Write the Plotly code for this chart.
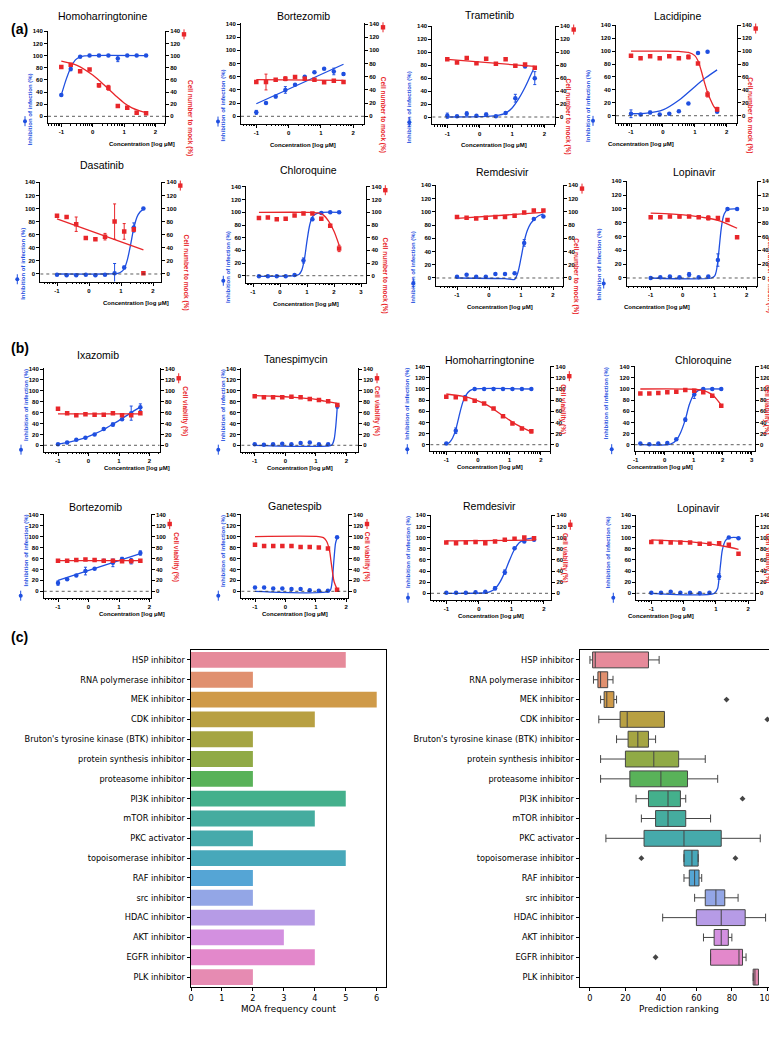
import math
import plotly.graph_objects as go

W, H = 777, 1041
BLUE = '#1f4fe0'
RED = '#e8262a'
FONT = 'Liberation Sans'
CFONT = 'DejaVu Sans'

# ---------------- concentrations (log uM) ----------------
conc = [-1.0, -0.7, -0.4, -0.1, 0.2, 0.5, 0.8, 1.1, 1.4, 1.7]
conc_cq_a = [-0.78, -0.45, -0.12, 0.21, 0.54, 0.87, 1.2, 1.53, 1.86, 2.19]
conc_cq_b = [-0.84, -0.53, -0.22, 0.09, 0.4, 0.71, 1.02, 1.33, 1.64, 1.95]
ticks_std = [-1, 0, 1, 2]
ticks_cq = [-1, 0, 1, 2, 3]

titles_a = ["Homoharringtonine", "Bortezomib", "Trametinib", "Lacidipine",
            "Dasatinib", "Chloroquine", "Remdesivir", "Lopinavir"]
titles_b = ["Ixazomib", "Tanespimycin", "Homoharringtonine", "Chloroquine",
            "Bortezomib", "Ganetespib", "Remdesivir", "Lopinavir"]

# ---------------- panel (a) ----------------
a1_inf = [35, 78, 98, 100, 100, 100, 95, 100, 100, 100]
a1_inf_err = [0, 3, 0, 0, 0, 0, 5, 0, 0, 0]
a1_cell = [81, 85, 74, 77, 51, 47, 17, 14, 6, 5]
a1_cell_err = [0, 0, 2, 0, 3, 4, 0, 0, 0, 0]
a1_inf_fit_x = [-1, -0.85, -0.7, -0.55, -0.4, -0.25, -0.1, 1.7]
a1_inf_fit = [35, 60, 80, 93, 98, 99.5, 100, 100]
a1_cell_fit_x = [-1, -0.5, 0, 0.25, 0.5, 0.75, 1, 1.25, 1.5, 1.7]
a1_cell_fit = [91, 84, 68, 57, 45, 33, 22, 14, 9, 6]

a2_inf = [6, 20, 30, 40, 48, 60, 67, 72, 68, 64]
a2_inf_err = [3, 0, 2, 5, 0, 0, 0, 0, 5, 2]
a2_cell = [52, 52, 55.5, 57, 59.5, 57, 55.5, 51.5, 54, 52]
a2_cell_err = [2, 12, 0, 3, 0, 2, 0, 0, 0, 0]
a2_inf_fit_x = [-1, 1.7]
a2_inf_fit = [19, 79]
a2_cell_fit_x = [-1, 1.7]
a2_cell_fit = [55.5, 54.5]

a3_inf = [2, 1, 5, 2, 4, 1, 6, 29, 78, 60]
a3_inf_err = [4, 0, 3, 0, 2, 0, 0, 6, 0, 10]
a3_cell = [89, 84, 91, 83, 90, 82, 89, 79, 81, 76]
a3_cell_err = [0, 0, 0, 0, 0, 0, 0, 0, 0, 0]
a3_inf_fit_x = [-1, 0, 0.5, 0.8, 1.0, 1.2, 1.4, 1.55, 1.7]
a3_inf_fit = [0, 0.5, 2, 6, 14, 28, 46, 62, 78]
a3_cell_fit_x = [-1, 1.7]
a3_cell_fit = [89, 78]

a4_inf = [3, 2, 5, 2, 3, 7, 19, 97, 99, 6]
a4_inf_err = [6, 0, 2, 0, 0, 0, 0, 0, 0, 0]
a4_cell = [93, 89, 92, 89, 92, 89, 91, 81, 33, 10]
a4_cell_err = [0, 0, 0, 0, 0, 0, 3, 0, 4, 3]
a4_inf_fit_x = [-1, -0.5, 0, 0.5, 1.0, 1.35, 1.7]
a4_inf_fit = [3, 4, 9, 24, 45, 59, 71]
a4_cell_fit_x = [-1, 0, 0.5, 0.8, 1.0, 1.1, 1.2, 1.3, 1.4, 1.5, 1.6, 1.7]
a4_cell_fit = [100, 100, 99.5, 98, 93, 85, 70, 52, 36, 24, 14, 8]

a5_inf = [-1, -2, -2, -1, -2, -1, 1, 10, 71, 100]
a5_inf_err = [0, 0, 0, 0, 0, 0, 15, 2, 7, 0]
a5_cell = [89, 87, 76, 55, 53, 57, 80, 65, 68, 1]
a5_cell_err = [0, 0, 11, 0, 0, 5, 27, 12, 3, 0]
a5_inf_fit_x = [-1, 0.5, 0.9, 1.0, 1.1, 1.2, 1.3, 1.4, 1.5, 1.6, 1.7]
a5_inf_fit = [0, 0, 1, 3, 8, 22, 45, 70, 87, 95, 99]
a5_cell_fit_x = [-1, 1.7]
a5_cell_fit = [84, 37]

a6_inf = [-1, -1, -1, -1, 1, 24, 89, 99, 100, 100]
a6_inf_err = [0, 0, 0, 0, 0, 4, 2, 0, 0, 0]
a6_cell = [91, 92, 89, 90, 95, 98, 98, 90, 79, 43]
a6_cell_err = [0, 0, 0, 0, 0, 0, 0, 2, 2, 5]
a6_inf_fit_x = [-0.78, 0.5, 0.7, 0.8, 0.9, 1.0, 1.1, 1.2, 1.35, 1.6, 2.19]
a6_inf_fit = [-1, 0, 2, 8, 25, 55, 80, 93, 98, 100, 100]
a6_cell_fit_x = [-0.78, 1.0, 1.4, 1.6, 1.8, 2.0, 2.19]
a6_cell_fit = [100, 100, 99, 96, 86, 70, 48]

a7_inf = [2, 5, 2, 2, 6, 6, 7, 53, 89, 93]
a7_inf_err = [0, 0, 0, 0, 0, 0, 0, 5, 0, 0]
a7_cell = [92, 91, 90, 91, 92, 92, 94, 99, 102, 102]
a7_cell_err = [0, 0, 0, 0, 0, 0, 0, 0, 0, 0]
a7_inf_fit_x = [-1, 0.5, 0.8, 0.9, 1.0, 1.1, 1.2, 1.3, 1.4, 1.55, 1.7]
a7_inf_fit = [0, -1, -2, 8, 30, 55, 72, 82, 88, 94, 97]
a7_cell_fit_x = [-1, 1.7]
a7_cell_fit = [90, 99]

a8_inf = [0, 1, 2, 1, 5, 1, 2, 26, 100, 100]
a8_inf_err = [0, 0, 0, 0, 3, 0, 0, 9, 0, 0]
a8_cell = [88, 88, 89, 89, 89, 88, 87, 87, 84, 59]
a8_cell_err = [0, 0, 0, 2, 0, 0, 3, 0, 0, 0]
a8_inf_fit_x = [-1, 0.9, 1.0, 1.05, 1.1, 1.15, 1.2, 1.25, 1.3, 1.4, 1.7]
a8_inf_fit = [0, 0, 3, 10, 25, 48, 70, 85, 93, 99, 100]
a8_cell_fit_x = [-1, -0.3, 0.3, 0.8, 1.2, 1.7]
a8_cell_fit = [94, 92.5, 90, 86.5, 82, 72]

# ---------------- panel (b) ----------------
b1_inf = [2, 5, 10, 14, 20, 30, 38, 48, 59, 70]
b1_inf_err = [0, 2, 0, 0, 0, 0, 3, 0, 13, 6]
b1_cell = [67, 59, 55, 57, 56, 56, 59, 55, 55, 59]
b1_cell_err = [0, 0, 0, 0, 0, 0, 0, 0, 0, 0]
b1_inf_fit_x = [-1, -0.7, -0.4, -0.1, 0.2, 0.5, 0.8, 1.1, 1.4, 1.7]
b1_inf_fit = [2.5, 5, 9, 14, 21, 29, 39, 49, 60, 70]
b1_cell_fit_x = [-1, 1.7]
b1_cell_fit = [57.5, 57.5]

b2_inf = [2, 1, 2, 3, 2, 4, 5, 2, 2, 72]
b2_inf_err = [0, 0, 0, 0, 0, 0, 0, 0, 0, 4]
b2_cell = [90, 88, 88, 88, 89, 88, 85, 83, 81, 74]
b2_cell_err = [0, 0, 0, 0, 0, 0, 0, 0, 0, 0]
b2_inf_fit_x = [-1, 1.5, 1.55, 1.6, 1.65, 1.7]
b2_inf_fit = [0, 0, 3, 12, 35, 72]
b2_cell_fit_x = [-1, -0.3, 0.3, 0.9, 1.3, 1.7]
b2_cell_fit = [91, 90, 88, 85, 81, 77]

b3_inf = [2, 25, 85, 100, 100, 100, 100, 100, 100, 100]
b3_inf_err = [0, 5, 3, 0, 0, 0, 0, 0, 0, 0]
b3_cell = [86, 85, 82, 79, 74, 65, 51, 38, 29, 24]
b3_cell_err = [0, 0, 0, 0, 0, 0, 0, 0, 0, 3]
b3_inf_fit_x = [-1, -0.9, -0.8, -0.7, -0.6, -0.5, -0.4, -0.25, -0.1, 1.7]
b3_inf_fit = [1, 4, 12, 27, 50, 72, 87, 97, 100, 100]
b3_cell_fit_x = [-1, -0.5, -0.1, 0.3, 0.8, 1.2, 1.7]
b3_cell_fit = [91, 87, 81, 71, 52, 37, 23]

b4_inf = [2, 1, 2, 3, 10, 45, 90, 100, 100, 100]
b4_inf_err = [0, 0, 0, 0, 0, 3, 7, 0, 0, 0]
b4_cell = [92, 92, 93, 94, 95, 98, 97, 94, 88, 70]
b4_cell_err = [0, 0, 0, 0, 0, 0, 0, 0, 0, 0]
b4_inf_fit_x = [-0.84, 0.2, 0.4, 0.55, 0.71, 0.85, 1.0, 1.15, 1.3, 1.95]
b4_inf_fit = [0, 1, 8, 22, 45, 72, 90, 97, 99.5, 100]
b4_cell_fit_x = [-0.84, 1.0, 1.3, 1.5, 1.7, 1.95]
b4_cell_fit = [100, 99.5, 97.5, 94, 87, 71]

b5_inf = [15, 22, 29, 37, 41, 56, 52, 59, 55, 70]
b5_inf_err = [4, 0, 0, 7, 0, 0, 7, 3, 5, 4]
b5_cell = [56, 56, 57, 58, 57, 56, 56, 55, 55, 56]
b5_cell_err = [0, 0, 0, 0, 0, 0, 0, 0, 0, 0]
b5_inf_fit_x = [-1, 1.7]
b5_inf_fit = [20, 69]
b5_cell_fit_x = [-1, 1.7]
b5_cell_fit = [56, 56]

b6_inf = [7, 7, 5, 5, 4, 4, 2, 1, 1, 99]
b6_inf_err = [0, 0, 0, 0, 0, 0, 0, 0, 0, 0]
b6_cell = [85, 83, 83, 83, 83, 81, 81, 80, 78, 3]
b6_cell_err = [0, 0, 0, 0, 0, 0, 0, 0, 0, 0]
b6_inf_fit_x = [-1, 1.45, 1.5, 1.55, 1.6, 1.65, 1.7]
b6_inf_fit = [0, 0, 5, 25, 60, 88, 98]
b6_cell_fit_x = [-1, 1.1, 1.25, 1.35, 1.45, 1.5, 1.55, 1.6, 1.7]
b6_cell_fit = [100, 100, 98, 92, 75, 55, 35, 18, 4]

b7_inf = [1, 1, 1, 2, 3, 9, 38, 81, 93, 96]
b7_inf_err = [0, 0, 0, 0, 0, 3, 4, 0, 0, 0]
b7_cell = [91, 90, 91, 92, 90, 93, 96, 98, 100, 99]
b7_cell_err = [0, 0, 0, 0, 0, 0, 0, 0, 0, 0]
b7_inf_fit_x = [-1, 0.2, 0.35, 0.5, 0.65, 0.8, 0.95, 1.1, 1.25, 1.4, 1.7]
b7_inf_fit = [0, 1, 3, 8, 20, 38, 60, 79, 91, 96, 100]
b7_cell_fit_x = [-1, 1.7]
b7_cell_fit = [94, 95.5]

b8_inf = [1, 1, 3, 1, 1, 0, 1, 30, 100, 99]
b8_inf_err = [0, 0, 0, 0, 0, 0, 0, 5, 0, 0]
b8_cell = [92, 92, 91, 91, 91, 89, 89, 90, 87, 71]
b8_cell_err = [0, 0, 0, 0, 0, 0, 0, 0, 0, 0]
b8_inf_fit_x = [-1, 0.95, 1.05, 1.1, 1.15, 1.2, 1.3, 1.4, 1.7]
b8_inf_fit = [0, 0, 8, 28, 55, 78, 95, 99.5, 100]
b8_cell_fit_x = [-1, -0.3, 0.3, 0.9, 1.3, 1.7]
b8_cell_fit = [96, 94, 92, 88, 84, 79]

# ---------------- panel (c) ----------------
moa_cats = ["HSP inhibitor", "RNA polymerase inhibitor", "MEK inhibitor", "CDK inhibitor",
            "Bruton's tyrosine kinase (BTK) inhibitor", "protein synthesis inhibitor",
            "proteasome inhibitor", "PI3K inhibitor", "mTOR inhibitor", "PKC activator",
            "topoisomerase inhibitor", "RAF inhibitor", "src inhibitor", "HDAC inhibitor",
            "AKT inhibitor", "EGFR inhibitor", "PLK inhibitor"]
moa_counts = [5, 2, 6, 4, 2, 2, 2, 5, 4, 2, 5, 2, 2, 4, 3, 4, 2]
rank_lo = [0, 2, 6, 5, 15, 6, 6, 26, 29, 9, 53, 53, 59, 41, 64, 68, 92]
rank_q1 = [1.5, 4.5, 8, 17, 21.5, 20, 22.5, 33, 37, 30.5, 53, 56, 65, 60, 70, 68, 92]
rank_med = [3, 6, 9.5, 21, 27, 36, 40, 44, 44, 53, 57.5, 59, 71, 74, 74, 84, 93]
rank_q3 = [33, 10, 13.5, 42, 33, 50, 55, 51, 54, 74, 61, 61.5, 76, 87.5, 78, 86, 95]
rank_hi = [39, 13, 15, 42, 37, 65, 72, 54, 68, 96, 61, 63, 83.5, 99, 80, 88, 95]
outlier_val = [77, 100, 86, 29, 82, 37]
outlier_cat = ["MEK inhibitor", "CDK inhibitor", "PI3K inhibitor", "topoisomerase inhibitor",
               "topoisomerase inhibitor", "EGFR inhibitor"]

# ---------------- styles / geometry ----------------
moa_colors = ['#e68a9a', '#e0906f', '#cf9a48', '#b8a042', '#a5a543', '#90aa46', '#59b259',
              '#44b08c', '#45ac9f', '#46aaab', '#47a8ba', '#55a5d5', '#93a6e6', '#b69be6',
              '#d390e0', '#e388cb', '#e68bb2']

# (xl, xr, y140, y0, x_at_minus1, px_per_unit, title_x, title_y) in pixels
geom = [
    (40, 157, 23.3, 108.3, 53.3, 31.4, 94, 8),
    (233, 356, 16, 108.3, 248.3, 32.3, 295, 8),
    (424.3, 546.7, 18.3, 109, 439.3, 32.4, 482, 7),
    (608, 728.7, 17.3, 107.7, 623, 31.9, 669, 8),
    (32.3, 153.3, 174.3, 266, 49, 32, 94, 157),
    (238.3, 358.3, 179, 267.7, 245, 27, 300, 162),
    (428.3, 555, 177.3, 270, 449, 32, 495, 164),
    (618.7, 748.7, 173.3, 270, 642.7, 32, 686, 164),
    (36, 151.7, 361, 437.3, 50, 30.5, 90, 347),
    (233.3, 350, 361, 437.3, 246.7, 30.6, 288, 351),
    (422.3, 542.3, 358.7, 436.7, 438.3, 31.5, 482, 352),
    (626.7, 746.7, 358.7, 436.7, 627.7, 29, 695, 352),
    (35.7, 142.7, 506.7, 583.3, 50, 30.5, 87, 499),
    (233.3, 340, 506.7, 583.3, 247, 30.4, 287, 498),
    (423, 543.3, 507.3, 585.3, 438.3, 32.5, 482, 498),
    (628.3, 746.7, 507.3, 585.3, 643.3, 32.3, 690, 500),
]

fig = go.Figure()
layout = {}
annotations = []
shapes = []


def px(xp):
    return xp / W


def py(yp):
    return 1 - yp / H


def add_panel(k, title, xs, inf, inf_err, cell, cell_err, fxi, fyi, fxc, fyc, right_label, tick_major):
    xl, xr, y140, y0, xm1, ppu, tx, ty = geom[k]
    s = (y0 - y140) / 140.0
    ymin, ymax = -11.5, 141
    ytop = y140 - (ymax - 140) * s
    ybot = y0 - ymin * s
    xmin = -1 + (xl - xm1) / ppu
    xmax = -1 + (xr - xm1) / ppu
    xn, yl, yr = k + 1, 2 * k + 1, 2 * k + 2
    xa = 'x' if xn == 1 else 'x%d' % xn
    yla = 'y' if yl == 1 else 'y%d' % yl
    yra = 'y%d' % yr
    tf = dict(family=FONT, size=6, color='black', weight='bold')
    minor_vals = [n + math.log10(m) for n in range(-2, 4) for m in range(2, 10)]
    minor_vals = [v for v in minor_vals if xmin < v < xmax]
    layout['xaxis' if xn == 1 else 'xaxis%d' % xn] = dict(
        domain=[px(xl), px(xr)], range=[xmin, xmax], anchor=yla, automargin=False,
        showline=True, linecolor='black', linewidth=1, ticks='outside', ticklen=3,
        tickcolor='black', tickwidth=1, tickvals=tick_major, ticktext=[str(t) for t in tick_major],
        tickfont=tf, showgrid=False, zeroline=False,
        minor=dict(tickmode='array', tickvals=minor_vals, ticks='outside', ticklen=1.5,
                   tickcolor='black', tickwidth=0.8, showgrid=False))
    yax = dict(range=[ymin, ymax], anchor=xa, showline=True, linecolor='black', linewidth=1,
               ticks='outside', ticklen=3, tickcolor='black', tickwidth=1, automargin=False,
               tickvals=list(range(0, 141, 20)), tickfont=tf, showgrid=False, zeroline=False)
    layout['yaxis' if yl == 1 else 'yaxis%d' % yl] = dict(yax, domain=[py(ybot), py(ytop)])
    layout['yaxis%d' % yr] = dict(yax, overlaying=yla, side='right')

    # zero line
    shapes.append(dict(type='line', xref=xa, yref=yla, x0=xmin, x1=xmax, y0=0, y1=0,
                       line=dict(color='#333', width=0.8, dash='dot')))
    # fitted curves
    fig.add_trace(go.Scatter(x=fxc, y=fyc, mode='lines', line=dict(color=RED, width=1.3, shape='spline', smoothing=0.8),
                             xaxis=xa, yaxis=yra, hoverinfo='skip'))
    fig.add_trace(go.Scatter(x=fxi, y=fyi, mode='lines', line=dict(color=BLUE, width=1.3, shape='spline', smoothing=0.8),
                             xaxis=xa, yaxis=yla, hoverinfo='skip'))
    # points
    fig.add_trace(go.Scatter(x=xs, y=cell, mode='markers',
                             marker=dict(symbol='square', size=4.5, color=RED),
                             error_y=dict(type='data', array=cell_err, visible=True, color=RED, thickness=1, width=1.5),
                             xaxis=xa, yaxis=yra))
    fig.add_trace(go.Scatter(x=xs, y=inf, mode='markers',
                             marker=dict(symbol='circle', size=4.5, color=BLUE),
                             error_y=dict(type='data', array=inf_err, visible=True, color=BLUE, thickness=1, width=1.5),
                             xaxis=xa, yaxis=yla))
    # title
    annotations.append(dict(text=title, x=px(tx), y=py(ty), xref='paper', yref='paper', showarrow=False,
                            font=dict(family=FONT, size=10.5, color='black'), xanchor='center', yanchor='middle'))
    # axis labels
    annotations.append(dict(text='Inhibition of infection (%)', x=px(xl - 23), y=py(y0 - 74 * s), xref='paper',
                            yref='paper', showarrow=False, textangle=-90,
                            font=dict(family=FONT, size=6, color=BLUE, weight='bold')))
    annotations.append(dict(text=right_label, x=px(xr + 19), y=py(y0 - 63 * s), xref='paper', yref='paper',
                            showarrow=False, textangle=90,
                            font=dict(family=FONT, size=6.5, color=RED, weight='bold')))
    annotations.append(dict(text='Concentration [log \u03bcM]', x=px((xl + xr) / 2), y=py(ybot + 16),
                            xref='paper', yref='paper', showarrow=False,
                            font=dict(family=FONT, size=6, color='black', weight='bold')))
    # legend glyphs
    gx, gy = xl - 23, y0 + 8 * s
    shapes.append(dict(type='line', xref='paper', yref='paper', x0=px(gx), x1=px(gx), y0=py(gy - 5), y1=py(gy + 5),
                       line=dict(color=BLUE, width=1)))
    shapes.append(dict(type='circle', xref='paper', yref='paper', x0=px(gx - 2), x1=px(gx + 2), y0=py(gy - 2),
                       y1=py(gy + 2), fillcolor=BLUE, line=dict(color=BLUE, width=0)))
    rgy = y0 - (135 if right_label.startswith('Cell number') else 123) * s
    rx = xr + 19
    shapes.append(dict(type='line', xref='paper', yref='paper', x0=px(rx), x1=px(rx), y0=py(rgy - 5), y1=py(rgy + 5),
                       line=dict(color=RED, width=1)))
    shapes.append(dict(type='rect', xref='paper', yref='paper', x0=px(rx - 2.2), x1=px(rx + 2.2), y0=py(rgy - 2.2),
                       y1=py(rgy + 2.2), fillcolor=RED, line=dict(color=RED, width=0)))


LA = 'Cell number to mock (%)'
LB = 'Cell viability (%)'
add_panel(0, titles_a[0], conc, a1_inf, a1_inf_err, a1_cell, a1_cell_err, a1_inf_fit_x, a1_inf_fit, a1_cell_fit_x, a1_cell_fit, LA, ticks_std)
add_panel(1, titles_a[1], conc, a2_inf, a2_inf_err, a2_cell, a2_cell_err, a2_inf_fit_x, a2_inf_fit, a2_cell_fit_x, a2_cell_fit, LA, ticks_std)
add_panel(2, titles_a[2], conc, a3_inf, a3_inf_err, a3_cell, a3_cell_err, a3_inf_fit_x, a3_inf_fit, a3_cell_fit_x, a3_cell_fit, LA, ticks_std)
add_panel(3, titles_a[3], conc, a4_inf, a4_inf_err, a4_cell, a4_cell_err, a4_inf_fit_x, a4_inf_fit, a4_cell_fit_x, a4_cell_fit, LA, ticks_std)
add_panel(4, titles_a[4], conc, a5_inf, a5_inf_err, a5_cell, a5_cell_err, a5_inf_fit_x, a5_inf_fit, a5_cell_fit_x, a5_cell_fit, LA, ticks_std)
add_panel(5, titles_a[5], conc_cq_a, a6_inf, a6_inf_err, a6_cell, a6_cell_err, a6_inf_fit_x, a6_inf_fit, a6_cell_fit_x, a6_cell_fit, LA, ticks_cq)
add_panel(6, titles_a[6], conc, a7_inf, a7_inf_err, a7_cell, a7_cell_err, a7_inf_fit_x, a7_inf_fit, a7_cell_fit_x, a7_cell_fit, LA, ticks_std)
add_panel(7, titles_a[7], conc, a8_inf, a8_inf_err, a8_cell, a8_cell_err, a8_inf_fit_x, a8_inf_fit, a8_cell_fit_x, a8_cell_fit, LA, ticks_std)
add_panel(8, titles_b[0], conc, b1_inf, b1_inf_err, b1_cell, b1_cell_err, b1_inf_fit_x, b1_inf_fit, b1_cell_fit_x, b1_cell_fit, LB, ticks_std)
add_panel(9, titles_b[1], conc, b2_inf, b2_inf_err, b2_cell, b2_cell_err, b2_inf_fit_x, b2_inf_fit, b2_cell_fit_x, b2_cell_fit, LB, ticks_std)
add_panel(10, titles_b[2], conc, b3_inf, b3_inf_err, b3_cell, b3_cell_err, b3_inf_fit_x, b3_inf_fit, b3_cell_fit_x, b3_cell_fit, LB, ticks_std)
add_panel(11, titles_b[3], conc_cq_b, b4_inf, b4_inf_err, b4_cell, b4_cell_err, b4_inf_fit_x, b4_inf_fit, b4_cell_fit_x, b4_cell_fit, LB, ticks_cq)
add_panel(12, titles_b[4], conc, b5_inf, b5_inf_err, b5_cell, b5_cell_err, b5_inf_fit_x, b5_inf_fit, b5_cell_fit_x, b5_cell_fit, LB, ticks_std)
add_panel(13, titles_b[5], conc, b6_inf, b6_inf_err, b6_cell, b6_cell_err, b6_inf_fit_x, b6_inf_fit, b6_cell_fit_x, b6_cell_fit, LB, ticks_std)
add_panel(14, titles_b[6], conc, b7_inf, b7_inf_err, b7_cell, b7_cell_err, b7_inf_fit_x, b7_inf_fit, b7_cell_fit_x, b7_cell_fit, LB, ticks_std)
add_panel(15, titles_b[7], conc, b8_inf, b8_inf_err, b8_cell, b8_cell_err, b8_inf_fit_x, b8_inf_fit, b8_cell_fit_x, b8_cell_fit, LB, ticks_std)

# ---------------- panel (c) ----------------
ctf = dict(family=CFONT, size=8.2, color='black')
caxis_common = dict(showline=True, mirror=True, linecolor='black', linewidth=0.8, ticks='outside',
                    ticklen=3.5, tickcolor='black', tickwidth=0.8, showgrid=False, zeroline=False,
                    tickfont=ctf, automargin=False)
layout['xaxis17'] = dict(caxis_common, domain=[px(183), px(378)], range=[0, 6.3], anchor='y33',
                         tickvals=[0, 1, 2, 3, 4, 5, 6],
                         title=dict(text='MOA frequency count', font=dict(family=CFONT, size=8.8, color='black'), standoff=3))
layout['yaxis33'] = dict(caxis_common, domain=[py(979), py(642)], anchor='x17', type='category',
                         categoryorder='array', categoryarray=moa_cats, range=[16.5, -0.5])
layout['xaxis18'] = dict(caxis_common, domain=[px(572), px(770)], range=[-5.6, 106], anchor='y34',
                         tickvals=[0, 20, 40, 60, 80, 100],
                         title=dict(text='Prediction ranking', font=dict(family=CFONT, size=8.8, color='black'), standoff=3))
layout['yaxis34'] = dict(caxis_common, domain=[py(979), py(642)], anchor='x18', type='category',
                         categoryorder='array', categoryarray=moa_cats, range=[16.5, -0.5])

fig.add_trace(go.Bar(x=moa_counts, y=moa_cats, orientation='h', marker=dict(color=moa_colors, line=dict(width=0)),
                     width=0.8, xaxis='x17', yaxis='y33'))

for i, cat in enumerate(moa_cats):
    fig.add_trace(go.Box(y=[cat], q1=[rank_q1[i]], median=[rank_med[i]], q3=[rank_q3[i]],
                         lowerfence=[rank_lo[i]], upperfence=[rank_hi[i]], orientation='h',
                         fillcolor=moa_colors[i], line=dict(color='#454545', width=1), width=0.8,
                         whiskerwidth=0.5, boxpoints=False, xaxis='x18', yaxis='y34'))
fig.add_trace(go.Scatter(x=outlier_val, y=outlier_cat, mode='markers',
                         marker=dict(symbol='diamond', size=4.5, color='#454545'), xaxis='x18', yaxis='y34'))

# panel letters
for lab, yy in [('(a)', 11), ('(b)', 330), ('(c)', 629)]:
    annotations.append(dict(text=lab, x=px(1), y=py(yy), xref='paper', yref='paper', showarrow=False,
                            xanchor='left', font=dict(family=FONT, size=14, color='black', weight='bold')))

fig.update_layout(width=W, height=H, margin=dict(l=0, r=0, t=0, b=0, autoexpand=False), plot_bgcolor='white',
                  paper_bgcolor='white', showlegend=False, boxmode='overlay', bargap=0.2,
                  annotations=annotations, shapes=shapes, **layout)
fig.write_html('out.html')
